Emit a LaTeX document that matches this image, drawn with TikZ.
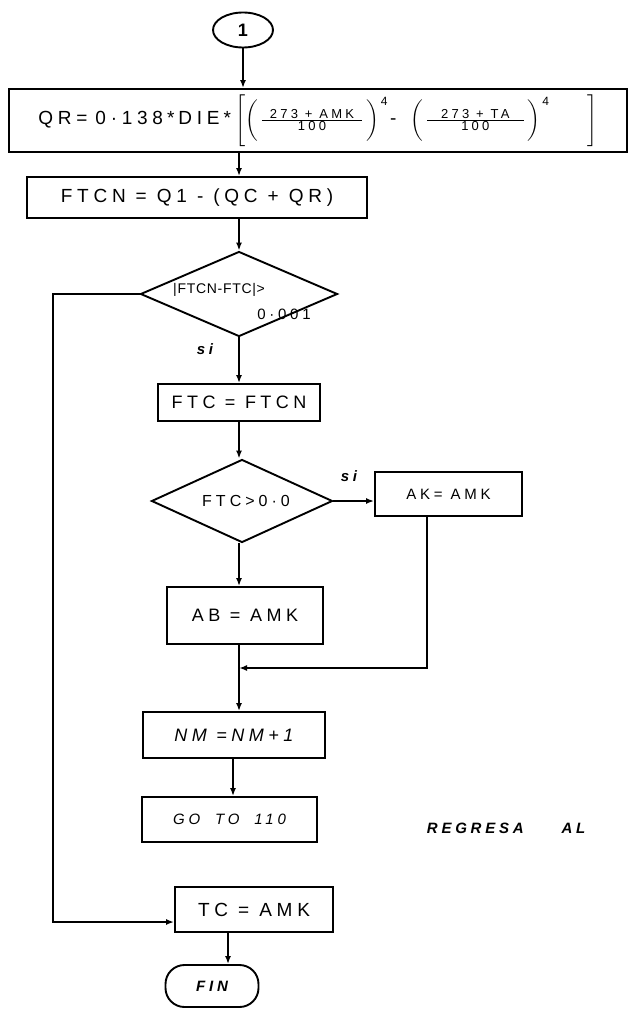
\documentclass[tikz,border=0pt]{standalone}
\usepackage{amsmath}
\usepackage{fontspec}
\setmainfont{Liberation Sans}[LetterSpace=25]
\newfontfamily\tightfont{Liberation Sans}[LetterSpace=5]
\usetikzlibrary{arrows.meta,shapes.geometric,calc}
\newcommand\fbig{\fontsize{19}{22}\selectfont}
\newcommand\fsz{\fontsize{18}{21}\selectfont}
\newcommand\fmid{\fontsize{16}{19}\selectfont}
\newcommand\fsm{\fontsize{15}{18}\selectfont}
\newcommand\fnum[1]{\text{\fontsize{13}{15}\selectfont #1}}
\newcommand\fexp{\text{\fontsize{12}{14}\selectfont 4}}
\tikzset{
  boxn/.style={draw, rectangle, inner sep=0pt, align=center, font=\fsz},
  dia/.style={draw, diamond, inner sep=0pt},
  arr/.style={-{Latex[length=8pt,width=6pt]}},
  lab/.style={font=\fsm\itshape\bfseries, inner sep=0pt},
  txt/.style={font=\fsm, inner sep=0pt},
}
\begin{document}
\begin{tikzpicture}[x=1pt,y=-1pt,line width=1.9pt]
\useasboundingbox[fill=white] (0,0) rectangle (634,1011);
\coordinate (sp) at (239,0);
% nodes
\node[draw, ellipse, minimum width=60, minimum height=35, inner sep=0pt, font=\fsz\bfseries] (c1) at (243,30) {1};
\node[boxn, minimum width=618, minimum height=63, font=\fbig] (qr) at (318,120.5)
  {QR=\hspace{8pt}0·138\hspace{4pt}*\hspace{4pt}DIE\hspace{4pt}*\hspace{4pt}$\Bigg[\bigg(\,\frac{\hspace{8pt}\fnum{273 + AMK}\hspace{8pt}}{\fnum{100}}\,\bigg)^{\hspace{2pt}\fexp}\hspace{2pt}\text{-}\hspace{14pt}\bigg(\,\frac{\hspace{14pt}\fnum{273 + TA}\hspace{14pt}}{\fnum{100}}\,\bigg)^{\hspace{2pt}\fexp}\hspace{38pt}\Bigg]$};
\node[boxn, minimum width=340, minimum height=41, font=\fbig] (ftcn) at (197,197.5) {FTCN = Q1 - (QC + QR)};
\node[dia, minimum width=197, minimum height=85] (d1) at (239,294) {};
\node[font=\fontsize{14}{17}\selectfont\tightfont, inner sep=0pt] (d1a) at (219,290) {|FTCN-FTC|>};
\node[txt] (d1b) at (284,314) {0·001};
\node[lab] (si1) at (205,349) {si};
\node[boxn, minimum width=162, minimum height=37] (ftc) at (239,402.5) {FTC = FTCN};
\node[dia, minimum width=181, minimum height=83] (d2) at (242,501) {};
\node[font=\fmid, inner sep=0pt] (d2t) at (246,501) {FTC>0·0};
\node[lab] (si2) at (349,476) {si};
\node[boxn, minimum width=147, minimum height=44, font=\fsm] (ak) at (448.5,494) {AK= AMK};
\node[boxn, minimum width=156, minimum height=57] (ab) at (245,615.5) {AB = AMK};
\coordinate (m) at (239,668);
\node[boxn, minimum width=182, minimum height=46, font=\fsz\itshape] (nm) at (234,735) {NM =NM+1};
\node[boxn, minimum width=175, minimum height=45, font=\fsm\itshape] (go) at (229.5,819.5) {GO\quad TO\quad 110};
\node[lab, anchor=west] (reg) at (426,828) {REGRESA\hspace{38pt}AL};
\node[boxn, minimum width=158, minimum height=45, font=\fbig] (tc) at (254,909.5) {TC = AMK};
\node[draw, rectangle, rounded corners=19pt, minimum width=93, minimum height=42, inner sep=0pt, font=\fsm\itshape\bfseries] (fin) at (212,986) {FIN};
\coordinate (lc) at (53,922);
\coordinate (tcin) at (tc.west |- lc);
% connectors
\draw[arr] (c1.south) -- (c1.south |- qr.north);
\draw[arr] (qr.south -| sp) -- (ftcn.north -| sp);
\draw[arr] (ftcn.south -| sp) -- (d1.north);
\draw[arr] (d1.south) -- (ftc.north -| d1.south);
\draw[arr] (ftc.south) -- (ftc.south |- d2.north);
\draw[arr] (d2.east) -- (d2.east -| ak.west);
\draw[arr] (d2.south -| sp) -- (ab.north -| sp);
\draw[arr] (ab.south -| sp) -- (nm.north -| sp);
\draw[arr] ([xshift=-21.5pt]ak.south) |- (m);
\draw[arr] ([xshift=-1pt]nm.south) -- ([xshift=-1pt]nm.south |- go.north);
\draw[arr] (d1.west) -| (lc) -- (tcin);
\draw[arr] ([xshift=-26pt]tc.south) -- ([xshift=-26pt]tc.south |- fin.north);
\end{tikzpicture}
\end{document}
